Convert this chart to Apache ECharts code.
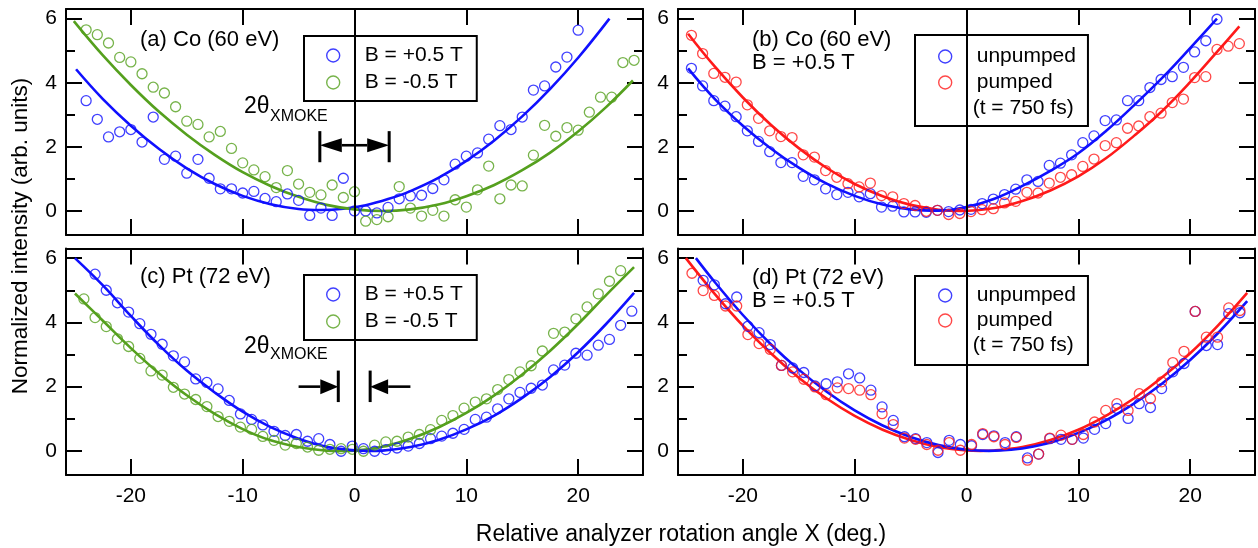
<!DOCTYPE html>
<html>
<head>
<meta charset="utf-8">
<script src="https://cdn.jsdelivr.net/npm/echarts@6.0.0/dist/echarts.min.js"></script>
<style>
html,body{margin:0;padding:0;background:#fff;}
#c{width:1258px;height:548px;}
</style>
</head>
<body>
<div id="c"></div>
<script>
const FONT = "'Liberation Sans', Arial, Helvetica, sans-serif";
const BLUE = '#1010ff', GREEN = '#55a01e', RED = '#ff1a1a';

// ---- axes ----
const xTicks = [-20, -10, 0, 10, 20];
const yMajor = [0, 2, 4, 6];
const yMinor = [1, 3, 5];
const xRange = [-25.8, 25.8];
const yRange = [-0.75, 6.3];

// ---- panel (a) Co, B = +/-0.5 T ----
const aPlusX = [-24,-23,-22,-21,-20,-19,-18,-17,-16,-15,-14,-13,-12,-11,-10,-9,-8,-7,-6,-5,-4,-3,-2,-1,0,1,2,3,4,5,6,7,8,9,10,11,12,13,14,15,16,17,18,19,20];
const aPlusY = [3.44,2.86,2.31,2.47,2.54,2.15,2.93,1.61,1.71,1.18,1.61,1.02,0.69,0.69,0.56,0.61,0.39,0.29,0.53,0.33,-0.14,0.09,-0.14,1.02,0.00,0.00,-0.06,0.11,0.38,0.47,0.49,0.70,0.97,1.46,1.71,1.81,2.24,2.66,2.54,2.93,3.77,3.90,4.49,4.80,5.64];
const aMinusX = [-24,-23,-22,-21,-20,-19,-18,-17,-16,-15,-14,-13,-12,-11,-10,-9,-8,-7,-6,-5,-4,-3,-2,-1,0,1,2,3,4,5,6,7,8,9,10,11,12,13,14,15,16,17,18,19,20,21,22,23,24,25];
const aMinusY = [5.65,5.50,5.24,4.79,4.65,4.28,3.86,3.68,3.25,2.80,2.70,2.31,2.48,1.95,1.50,1.28,1.07,0.73,1.26,0.84,0.58,0.50,0.81,0.42,0.60,-0.32,-0.27,-0.18,0.76,0.09,-0.16,0.02,-0.16,0.35,0.12,0.66,1.40,0.38,0.81,0.78,1.74,2.67,2.33,2.60,2.52,3.08,3.55,3.55,4.63,4.70];
const aPlusFitX = [-24.9,-22.5,-20,-17.5,-15,-12.5,-10,-7.5,-5,-3,-1,1,3,5,7.5,10,12.5,15,17.5,20,22.8];
const aPlusFitY = [4.42,3.49,2.66,1.94,1.33,0.84,0.47,0.21,0.06,0.03,0.07,0.18,0.37,0.62,1.03,1.56,2.20,2.95,3.81,4.78,6.00];
const aMinusFitX = [-25.1,-22.5,-20,-17.5,-15,-12.5,-10,-7.5,-5,-2.5,0,2.5,5,7.5,10,12.5,15,17.5,20,22.5,24.9];
const aMinusFitY = [5.92,4.85,3.93,3.10,2.38,1.75,1.21,0.78,0.44,0.19,0.05,0.00,0.05,0.20,0.46,0.81,1.27,1.82,2.48,3.24,4.07];

// ---- panel (b) Co, unpumped / pumped ----
const bUnX = [-24.6,-23.6,-22.6,-21.6,-20.6,-19.6,-18.6,-17.6,-16.6,-15.6,-14.6,-13.6,-12.6,-11.6,-10.6,-9.6,-8.6,-7.6,-6.6,-5.6,-4.6,-3.6,-2.6,-1.6,-0.6,0.4,1.4,2.4,3.4,4.4,5.4,6.4,7.4,8.4,9.4,10.4,11.4,12.4,13.4,14.4,15.4,16.4,17.4,18.4,19.4,20.4,21.4,22.4];
const bUnY = [4.45,3.90,3.44,3.27,2.94,2.50,2.17,1.85,1.51,1.51,1.08,0.97,0.69,0.51,0.58,0.44,0.54,0.12,0.15,-0.03,-0.03,-0.04,0.02,-0.02,0.03,0.05,0.23,0.37,0.51,0.68,0.97,0.92,1.42,1.49,1.75,2.13,2.34,2.82,2.84,3.44,3.44,3.85,4.10,4.19,4.48,4.96,5.31,5.98];
const bPuX = [-24.6,-23.6,-22.6,-21.6,-20.6,-19.6,-18.6,-17.6,-16.6,-15.6,-14.6,-13.6,-12.6,-11.6,-10.6,-9.6,-8.6,-7.6,-6.6,-5.6,-4.6,-3.6,-2.6,-1.6,-0.6,0.4,1.4,2.4,3.4,4.4,5.4,6.4,7.4,8.4,9.4,10.4,11.4,12.4,13.4,14.4,15.4,16.4,17.4,18.4,19.4,20.4,21.4,22.4,23.4,24.4];
const bPuY = [5.48,4.91,4.29,4.17,4.02,3.31,2.89,2.50,2.32,2.29,1.75,1.68,1.26,1.05,0.85,0.75,0.87,0.48,0.44,0.23,0.17,-0.01,0.02,-0.11,-0.08,-0.02,0.04,0.07,0.25,0.30,0.58,0.56,0.87,1.05,1.13,1.39,1.62,2.04,2.13,2.58,2.65,2.94,3.05,3.38,3.49,4.16,4.19,5.04,5.14,5.22];
const bUnFitX = [-24.9,-22.5,-20,-17.5,-15,-12.5,-10,-7.5,-5,-2.5,0,2.5,5,7.5,10,12.5,15,17.5,20,22.4];
const bUnFitY = [4.45,3.49,2.66,1.95,1.35,0.85,0.47,0.20,0.05,0.01,0.12,0.38,0.78,1.25,1.80,2.50,3.30,4.15,5.08,6.00];
const bPuFitX = [-24.9,-22.5,-20,-17.5,-15,-12.5,-10,-7.5,-5,-2.5,-0.5,2.5,5,7.5,10,12.5,15,17.5,20,22.5,24.4];
const bPuFitY = [5.53,4.50,3.54,2.69,1.96,1.34,0.84,0.46,0.19,0.04,0.00,0.09,0.31,0.64,1.08,1.65,2.35,3.12,4.02,5.00,5.76];

// ---- panel (c) Pt, B = +/-0.5 T ----
const cPlusX = [-23.2,-22.2,-21.2,-20.2,-19.2,-18.2,-17.2,-16.2,-15.2,-14.2,-13.2,-12.2,-11.2,-10.2,-9.2,-8.2,-7.2,-6.2,-5.2,-4.2,-3.2,-2.2,-1.2,-0.2,0.8,1.8,2.8,3.8,4.8,5.8,6.8,7.8,8.8,9.8,10.8,11.8,12.8,13.8,14.8,15.8,16.8,17.8,18.8,19.8,20.8,21.8,22.8,23.8,24.8];
const cPlusY = [5.50,5.00,4.61,4.32,3.96,3.63,3.32,2.96,2.77,2.24,2.13,1.93,1.57,1.15,0.98,0.81,0.61,0.48,0.51,0.30,0.38,0.20,-0.01,0.15,0.07,-0.01,0.04,0.09,0.15,0.23,0.38,0.46,0.55,0.67,0.98,1.05,1.31,1.62,1.82,1.95,2.05,2.52,2.67,3.04,2.98,3.29,3.47,3.91,4.35];
const cMinusX = [-24.2,-23.2,-22.2,-21.2,-20.2,-19.2,-18.2,-17.2,-16.2,-15.2,-14.2,-13.2,-12.2,-11.2,-10.2,-9.2,-8.2,-7.2,-6.2,-5.2,-4.2,-3.2,-2.2,-1.2,-0.2,0.8,1.8,2.8,3.8,4.8,5.8,6.8,7.8,8.8,9.8,10.8,11.8,12.8,13.8,14.8,15.8,16.8,17.8,18.8,19.8,20.8,21.8,22.8,23.8];
const cMinusY = [4.73,4.15,3.87,3.49,3.25,2.88,2.49,2.36,1.98,1.77,1.60,1.38,1.07,0.92,0.74,0.67,0.45,0.33,0.18,0.23,0.12,0.02,0.05,0.07,0.05,-0.01,0.18,0.28,0.30,0.43,0.51,0.66,0.95,1.10,1.33,1.52,1.62,1.91,2.22,2.46,2.65,3.11,3.66,3.70,4.11,4.48,4.89,5.28,5.61];
const cPlusFitX = [-25,-22.5,-20,-17.5,-15,-12.5,-10,-7.5,-5,-2.5,0,1.4,2.5,5,7.5,10,12.5,15,17.5,20,22.5,25];
const cPlusFitY = [6.00,5.15,4.20,3.30,2.50,1.82,1.22,0.74,0.38,0.13,0.02,0.00,0.01,0.12,0.34,0.67,1.10,1.65,2.30,3.07,3.95,4.92];
const cMinusFitX = [-25,-22.5,-20,-17.5,-15,-12.5,-10,-7.5,-5,-2.5,-1.2,0,2.5,5,7.5,10,12.5,15,17.5,20,22.5,25];
const cMinusFitY = [4.90,4.05,3.20,2.42,1.73,1.15,0.68,0.33,0.12,0.01,0.00,0.01,0.13,0.38,0.73,1.18,1.73,2.38,3.12,3.95,4.85,5.72];

// ---- panel (d) Pt, unpumped / pumped ----
const dUnX = [-23.55,-22.55,-21.55,-20.55,-19.55,-18.55,-17.55,-16.55,-15.55,-14.55,-13.55,-12.55,-11.55,-10.55,-9.55,-8.55,-7.55,-6.55,-5.55,-4.55,-3.55,-2.55,-1.55,-0.55,0.45,1.45,2.45,3.45,4.45,5.45,6.45,7.45,8.45,9.45,10.45,11.45,12.45,13.45,14.45,15.45,16.45,17.45,18.45,19.45,20.45,21.45,22.45,23.45,24.45];
const dUnY = [5.31,5.17,4.58,4.79,3.88,3.68,3.31,2.66,2.58,2.44,2.02,2.09,2.15,2.40,2.27,1.89,1.37,0.95,0.44,0.38,0.26,-0.05,0.33,0.20,0.16,0.51,0.47,0.26,0.44,-0.22,-0.10,0.38,0.36,0.36,0.40,0.67,0.85,1.32,1.01,1.47,1.35,1.94,2.46,2.72,4.34,3.28,3.31,4.27,4.30];
const dPuX = [-24.55,-23.55,-22.55,-21.55,-20.55,-19.55,-18.55,-17.55,-16.55,-15.55,-14.55,-13.55,-12.55,-11.55,-10.55,-9.55,-8.55,-7.55,-6.55,-5.55,-4.55,-3.55,-2.55,-1.55,-0.55,0.45,1.45,2.45,3.45,4.45,5.45,6.45,7.45,8.45,9.45,10.45,11.45,12.45,13.45,14.45,15.45,16.45,17.45,18.45,19.45,20.45,21.45,22.45,23.45,24.45];
const dPuY = [5.53,4.99,4.84,4.51,4.51,3.62,3.34,3.16,2.66,2.46,2.23,1.99,1.75,1.96,1.94,1.89,1.75,1.16,0.82,0.40,0.36,0.20,0.02,0.26,0.02,0.20,0.54,0.44,0.20,0.42,-0.29,-0.10,0.40,0.49,0.36,0.51,0.90,1.26,1.47,1.26,1.78,1.63,2.15,2.75,3.10,4.34,3.54,3.54,4.45,4.37];
const dUnFitX = [-24.2,-22.5,-20,-17.5,-15,-12.5,-10,-7.5,-5,-2.5,0,2,4,6,8,10,12.5,15,17.5,20,22.5,25.1];
const dUnFitY = [6.00,5.25,4.23,3.32,2.53,1.84,1.26,0.79,0.43,0.18,0.035,0.00,0.035,0.14,0.31,0.56,0.96,1.48,2.10,2.83,3.67,4.66];
const dPuFitX = [-25.1,-22.5,-20,-17.5,-15,-12.5,-10,-7.5,-5,-2.5,0,1.24,2.5,5,7.5,10,12.5,15,17.5,20,22.5,25.1];
const dPuFitY = [6.00,4.88,3.90,3.04,2.28,1.63,1.09,0.66,0.34,0.12,0.013,0.00,0.014,0.12,0.34,0.66,1.10,1.64,2.29,3.04,3.91,4.92];

// ---- 2theta annotations: [tail x, tip x, y] and bars [x, y1, y2] ----
const arrowsA = [[0, -3.1, 2.05], [0, 3.1, 2.05]];
const barsA = [[-3.1, 1.52, 2.49], [3.1, 1.52, 2.49]];
const arrowsC = [[-5.0, -1.45, 2.0], [5.0, 1.4, 2.0]];
const barsC = [[-1.45, 1.52, 2.5], [1.4, 1.52, 2.5]];

// ---- legend / text labels ----
const legPlus = 'B = +0.5 T', legMinus = 'B = -0.5 T';
const legUn = 'unpumped', legPu = 'pumped', legT = '(t = 750 fs)';

const zip = (xs, ys) => xs.map((x, i) => [x, ys[i]]);

const grids = [
  {left: 66, top: 9, width: 577, height: 226},
  {left: 678, top: 9, width: 577, height: 226},
  {left: 66, top: 248.5, width: 577, height: 226.5},
  {left: 678, top: 248.5, width: 577, height: 226.5}
];

const black = '#000';
const xAxes = [], yAxes = [];
grids.forEach((g, i) => {
  ['bottom', 'top'].forEach((pos, k) => {
    const labelled = (k === 0 && i >= 2);
    xAxes.push({
      gridIndex: i, type: 'value', position: pos, min: xRange[0], max: xRange[1],
      axisLine: {show: true, onZero: false, lineStyle: {color: black, width: 2}},
      axisTick: {show: true, inside: true, length: 16, customValues: xTicks, lineStyle: {color: black, width: 2}},
      axisLabel: labelled
        ? {show: true, customValues: xTicks, fontSize: 21, color: black, fontFamily: FONT, margin: 11}
        : {show: false},
      splitLine: {show: false}
    });
  });
  [['left', true, yMajor, 16], ['left', false, yMinor, 9], ['right', true, yMajor, 16], ['right', false, yMinor, 9]].forEach(([pos, major, vals, len], k) => {
    yAxes.push({
      gridIndex: i, type: 'value', position: pos, min: yRange[0], max: yRange[1],
      axisLine: {show: major, onZero: false, lineStyle: {color: black, width: 2}},
      axisTick: {show: true, inside: true, length: len, customValues: vals, lineStyle: {color: black, width: 2}},
      axisLabel: k === 0
        ? {show: true, customValues: yMajor, fontSize: 21, color: black, fontFamily: FONT, margin: 9}
        : {show: false},
      splitLine: {show: false}
    });
  });
});

function scatter(name, pts, color, gi, withZero) {
  const s = {
    type: 'scatter', name: name, data: pts, xAxisIndex: gi * 2, yAxisIndex: gi * 4,
    symbol: 'circle', symbolSize: 10, z: 3,
    itemStyle: {color: 'rgba(0,0,0,0)', borderColor: color, borderWidth: 1.3},
    emphasis: {disabled: true}, silent: true
  };
  if (withZero) {
    s.markLine = {silent: true, symbol: 'none', label: {show: false}, animation: false,
      lineStyle: {color: black, width: 2, type: 'solid'}, data: [{xAxis: 0}]};
  }
  return s;
}
function fit(name, pts, color, gi) {
  return {
    type: 'line', name: name, data: pts, xAxisIndex: gi * 2, yAxisIndex: gi * 4,
    smooth: 0.4, showSymbol: false, symbol: 'none', z: 2,
    lineStyle: {color: color, width: 2.6}, silent: true, emphasis: {disabled: true}
  };
}
function arrowSeries(data, gi, headLen, headHalf) {
  return {
    type: 'custom', xAxisIndex: gi * 2, yAxisIndex: gi * 4, data: data, clip: false, silent: true, z: 5,
    encode: {x: [0, 1], y: 2},
    renderItem: (params, api) => {
      const tail = api.coord([api.value(0), api.value(2)]);
      const tip = api.coord([api.value(1), api.value(2)]);
      const dir = Math.sign(tip[0] - tail[0]);
      const base = tip[0] - dir * headLen;
      return {type: 'group', children: [
        {type: 'line', shape: {x1: tail[0], y1: tail[1], x2: base, y2: tip[1]}, style: {stroke: black, lineWidth: 2.6}},
        {type: 'polygon', shape: {points: [[tip[0], tip[1]], [base, tip[1] - headHalf], [base, tip[1] + headHalf]]}, style: {fill: black}}
      ]};
    }
  };
}
function barSeries(data, gi) {
  return {
    type: 'custom', xAxisIndex: gi * 2, yAxisIndex: gi * 4, data: data, clip: false, silent: true, z: 5,
    encode: {x: 0, y: [1, 2]},
    renderItem: (params, api) => {
      const p1 = api.coord([api.value(0), api.value(1)]);
      const p2 = api.coord([api.value(0), api.value(2)]);
      return {type: 'line', shape: {x1: p1[0], y1: p1[1], x2: p2[0], y2: p2[1]}, style: {stroke: black, lineWidth: 3}};
    }
  };
}

const series = [
  fit('fitA+', zip(aPlusFitX, aPlusFitY), BLUE, 0),
  fit('fitA-', zip(aMinusFitX, aMinusFitY), GREEN, 0),
  scatter(legPlus, zip(aPlusX, aPlusY), BLUE, 0, true),
  scatter(legMinus, zip(aMinusX, aMinusY), GREEN, 0, false),
  arrowSeries(arrowsA, 0, 22, 7), barSeries(barsA, 0),

  fit('fitB-pu', zip(bPuFitX, bPuFitY), RED, 1),
  fit('fitB-un', zip(bUnFitX, bUnFitY), BLUE, 1),
  scatter(legUn, zip(bUnX, bUnY), BLUE, 1, true),
  scatter(legPu, zip(bPuX, bPuY), RED, 1, false),
  {type: 'scatter', name: legT, data: [], xAxisIndex: 2, yAxisIndex: 4},

  fit('fitC-', zip(cMinusFitX, cMinusFitY), GREEN, 2),
  fit('fitC+', zip(cPlusFitX, cPlusFitY), BLUE, 2),
  scatter(legPlus, zip(cPlusX, cPlusY), BLUE, 2, true),
  scatter(legMinus, zip(cMinusX, cMinusY), GREEN, 2, false),
  arrowSeries(arrowsC, 2, 18, 7.5), barSeries(barsC, 2),

  fit('fitD-pu', zip(dPuFitX, dPuFitY), RED, 3),
  fit('fitD-un', zip(dUnFitX, dUnFitY), BLUE, 3),
  scatter(legUn, zip(dUnX, dUnY), BLUE, 3, true),
  scatter(legPu, zip(dPuX, dPuY), RED, 3, false)
];

function legendItem(name, color) {
  return {name: name, icon: 'circle',
    itemStyle: {color: 'rgba(0,0,0,0)', borderColor: color, borderWidth: 1.4}};
}
function legend(left, top, items, padding, gap) {
  return {
    orient: 'vertical', left: left, top: top, selectedMode: false,
    data: items, itemWidth: 13, itemHeight: 13, itemGap: gap,
    padding: padding, borderColor: black, borderWidth: 2, backgroundColor: '#fff',
    formatter: (name) => name === legT ? '{u|' + name + '}' : '{t|' + name + '}',
    textStyle: {color: black, fontSize: 21, fontFamily: FONT,
      rich: {t: {fontSize: 21, fontFamily: FONT, color: black, padding: [0, 0, 0, 20], lineHeight: 20},
             u: {fontSize: 21, fontFamily: FONT, color: black, padding: [0, 0, 0, 16], lineHeight: 20}}}
  };
}

const legends = [
  legend(304, 36, [legendItem(legPlus, BLUE), legendItem(legMinus, GREEN)], [9, 14, 8, 22], 6),
  legend(915, 35, [legendItem(legUn, BLUE), legendItem(legPu, RED),
    {name: legT, icon: 'circle', itemStyle: {color: 'rgba(0,0,0,0)', borderColor: 'rgba(0,0,0,0)', borderWidth: 0}}], [11, 12, 7, 23], 5),
  legend(304, 275, [legendItem(legPlus, BLUE), legendItem(legMinus, GREEN)], [9, 14, 8, 22], 6),
  legend(915, 276, [legendItem(legUn, BLUE), legendItem(legPu, RED),
    {name: legT, icon: 'circle', itemStyle: {color: 'rgba(0,0,0,0)', borderColor: 'rgba(0,0,0,0)', borderWidth: 0}}], [9, 12, 9, 23], 4)
];

function txt(text, x, y, size, extra) {
  return Object.assign({type: 'text', x: x, y: y, z: 20, silent: true,
    style: {text: text, fontSize: size, fontFamily: FONT, fill: black, align: 'left', verticalAlign: 'middle'}}, extra || {});
}
const graphics = [
  txt('(a) Co (60 eV)', 140, 40, 22),
  txt('(b) Co (60 eV)', 752, 40, 22),
  txt('B = +0.5 T', 752, 63, 22),
  txt('(c) Pt (72 eV)', 140, 277, 22),
  txt('(d) Pt (72 eV)', 752, 278, 22),
  txt('B = +0.5 T', 752, 301, 22),
  txt('2θ', 244, 107, 23),
  txt('XMOKE', 270, 117, 16),
  txt('2θ', 244, 347, 23),
  txt('XMOKE', 270, 355, 16),
  {type: 'text', x: 681, y: 535, z: 20, silent: true,
    style: {text: 'Relative analyzer rotation angle X (deg.)', fontSize: 23, fontFamily: FONT, fill: black, align: 'center', verticalAlign: 'middle'}},
  {type: 'text', x: 21, y: 236, z: 20, rotation: Math.PI / 2, silent: true,
    style: {text: 'Normalized intensity (arb. units)', fontSize: 22.5, fontFamily: FONT, fill: black, align: 'center', verticalAlign: 'middle'}}
];

const chart = echarts.init(document.getElementById('c'), null, {renderer: 'canvas', width: 1258, height: 548});
chart.setOption({
  animation: false,
  backgroundColor: '#fff',
  grid: grids,
  xAxis: xAxes,
  yAxis: yAxes,
  legend: legends,
  graphic: graphics,
  series: series
});
</script>
</body>
</html>
